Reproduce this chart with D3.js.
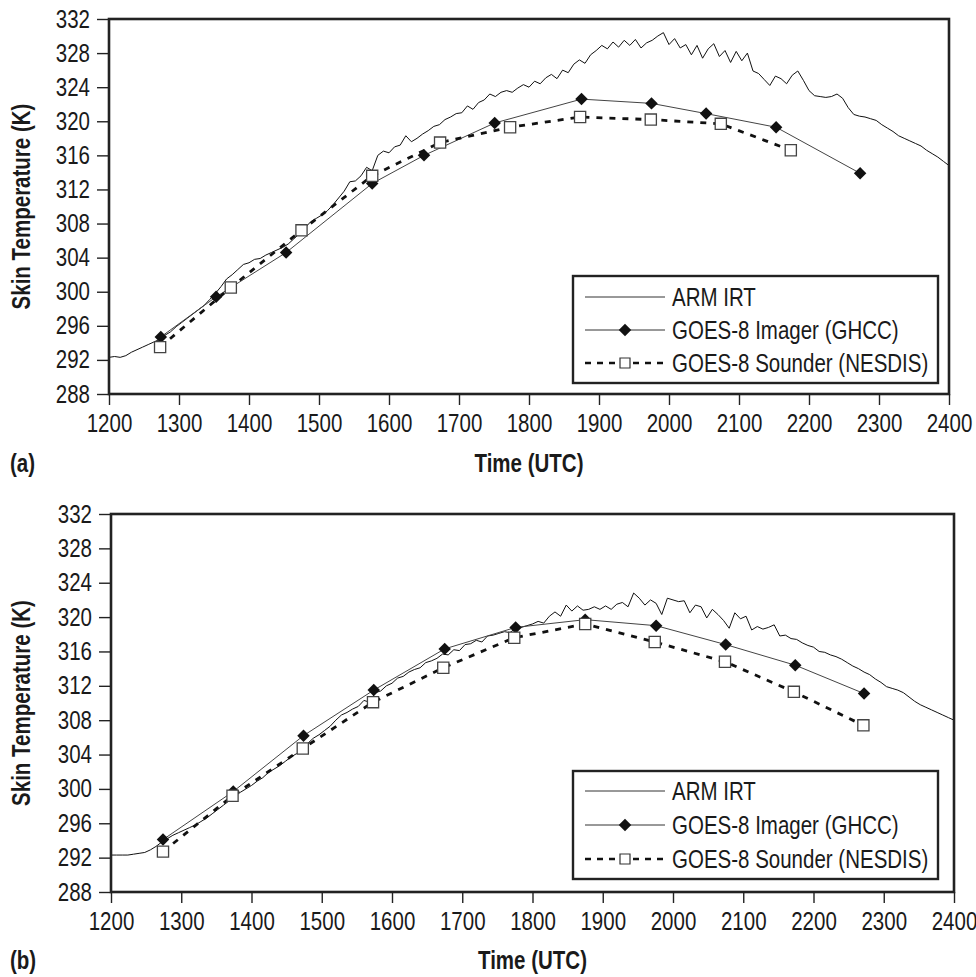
<!DOCTYPE html>
<html lang="en">
<head>
<meta charset="utf-8"/>
<title>Skin temperature</title>
<script src="https://d3js.org/d3.v7.min.js"></script>
<style>
  body { margin: 0; background: #fff; }
  text { font-family: "Liberation Sans", Arial, sans-serif; fill: #1a1a1a; }
</style>
</head>
<body>
<script>
// x ticks (time, UTC) and y ticks (K)
const timeTicks = [1200, 1300, 1400, 1500, 1600, 1700, 1800, 1900, 2000, 2100, 2200, 2300, 2400];
const tempTicks = [288, 292, 296, 300, 304, 308, 312, 316, 320, 324, 328, 332];
const legendLabels = ["ARM IRT", "GOES-8 Imager (GHCC)", "GOES-8 Sounder (NESDIS)"];

// ARM IRT traces, sampled every 8 time units starting at 1200
const armStart = 1200, armStep = 8;
const armA = [
  292.3, 292.4, 292.3, 292.5, 292.9, 293.2, 293.5, 293.8, 294.1, 294.4,
  294.9, 295.3, 295.9, 296.4, 296.9, 297.4, 297.9, 298.4, 299.1, 299.8,
  300.6, 301.5, 302.0, 302.6, 303.2, 303.4, 303.8, 303.9, 304.3, 304.6,
  304.9, 305.2, 305.6, 306.2, 306.8, 307.5, 308.2, 308.6, 309.0, 309.5,
  310.2, 311.0, 311.8, 312.9, 313.0, 313.6, 314.6, 314.2, 316.0, 316.5,
  316.3, 317.0, 317.2, 318.3, 317.6, 318.0, 318.5, 318.9, 319.4, 319.6,
  320.2, 320.5, 320.9, 321.0, 321.8, 321.4, 322.2, 322.5, 323.2, 322.9,
  323.4, 323.6, 323.4, 323.9, 324.3, 324.0, 324.7, 324.4, 325.1, 325.5,
  325.0, 326.0, 325.7, 326.7, 327.2, 326.8, 327.8, 328.3, 328.9, 328.5,
  329.3, 328.7, 329.5, 328.9, 329.6, 328.6, 329.2, 329.5, 330.0, 330.4,
  329.0, 329.7, 328.6, 329.0, 327.8, 328.9, 327.4, 328.5, 329.1, 327.6,
  328.3, 326.9, 328.2, 327.1, 328.0, 325.9, 325.6, 324.9, 324.2, 325.3,
  325.0, 324.4, 325.4, 325.9, 324.8, 323.6, 323.0, 322.9, 322.8, 322.9,
  323.2, 322.7, 321.6, 320.8, 320.6, 320.5, 320.3, 320.1, 319.6, 319.2,
  318.8, 318.3, 318.0, 317.7, 317.4, 317.1, 316.6, 316.2, 315.8, 315.3,
  314.8
];
const armB = [
  292.3, 292.3, 292.3, 292.3, 292.4, 292.5, 292.6, 292.9, 293.3, 293.8,
  294.2, 294.6, 294.9, 295.2, 295.5, 295.8, 296.2, 296.6, 297.1, 297.6,
  298.1, 298.6, 299.1, 299.6, 300.0, 300.4, 300.9, 301.3, 301.9, 302.3,
  302.7, 303.2, 303.7, 304.1, 304.5, 305.3, 305.9, 306.3, 306.8, 307.3,
  308.0, 308.6, 308.9, 309.3, 309.6, 310.3, 310.1, 311.2, 311.4, 312.0,
  312.3, 312.9, 313.1, 313.6, 313.9, 314.1, 314.7, 314.9, 315.2, 315.7,
  315.6, 316.2, 316.1, 316.8, 316.9, 317.3, 317.1, 317.8, 317.9, 318.1,
  318.3, 318.2, 318.7, 318.8, 319.0, 319.2, 319.5, 319.3, 320.1, 320.6,
  320.1, 321.4, 320.7, 321.3, 320.8, 320.9, 321.2, 320.9, 321.3, 320.9,
  321.5, 321.7, 321.2, 322.8, 322.2, 321.4, 322.0, 321.6, 320.3, 322.2,
  322.0, 321.8, 321.9, 320.5, 321.4, 321.2, 319.9, 320.9, 320.3, 319.6,
  318.7, 320.5, 319.8, 320.1, 318.5, 318.9, 318.6, 318.8, 319.1, 317.8,
  317.9, 317.5, 317.4, 317.0, 316.7, 316.5, 316.0, 315.9, 315.6, 315.4,
  315.1, 314.7, 314.3, 314.0, 313.6, 313.3, 312.8, 312.4, 311.9, 311.7,
  311.5, 311.2, 310.7, 310.2, 309.8, 309.5, 309.2, 308.9, 308.6, 308.3,
  308.0
];

// GOES-8 Imager (GHCC)
const imagerTimeA = [1274, 1353, 1453, 1576, 1650, 1751, 1875, 1975, 2053, 2153, 2273];
const imagerA = [294.7, 299.4, 304.6, 312.7, 316.0, 319.8, 322.6, 322.1, 320.9, 319.3, 313.9];
const imagerTimeB = [1274, 1374, 1474, 1574, 1675, 1776, 1875, 1976, 2075, 2174, 2272];
const imagerB = [294.1, 299.7, 306.2, 311.5, 316.3, 318.8, 319.7, 319.0, 316.8, 314.4, 311.1];

// GOES-8 Sounder (NESDIS)
const sounderTimeA = [1273, 1374, 1475, 1576, 1673, 1773, 1873, 1974, 2074, 2174];
const sounderA = [293.5, 300.5, 307.2, 313.6, 317.5, 319.3, 320.5, 320.2, 319.7, 316.6];
const sounderTimeB = [1274, 1373, 1473, 1573, 1673, 1774, 1875, 1974, 2074, 2172, 2271];
const sounderB = [292.7, 299.2, 304.7, 310.1, 314.1, 317.6, 319.2, 317.1, 314.8, 311.3, 307.4];

const svg = d3.select("body").append("svg")
    .attr("width", 976)
    .attr("height", 977);

const frameColor = "#222";
// the original uses a condensed face; squeeze Liberation Sans horizontally
const squeeze = 0.82;

function narrow(sel) {
    sel.each(function () {
        const t = d3.select(this);
        const x = +(t.attr("x") || 0);
        const tr = t.attr("transform") || "";
        t.attr("x", x / squeeze).attr("transform", `${tr} scale(${squeeze},1)`);
    });
}

function drawPanel(p) {
    const x = d3.scaleLinear().domain([1200, 2400]).range([p.left, p.right]);
    const y = d3.scaleLinear().domain([288, 332]).range([p.bottom, p.top]);
    const g = svg.append("g");

    // axes
    const yAxis = g.append("g")
        .attr("transform", `translate(${p.left},0)`)
        .call(d3.axisLeft(y).tickValues(tempTicks).tickSize(12).tickPadding(7).tickFormat(d3.format("d")));
    const xAxis = g.append("g")
        .attr("transform", `translate(0,${p.bottom})`)
        .call(d3.axisBottom(x).tickValues(timeTicks).tickSize(11).tickPadding(9).tickFormat(d3.format("d")));
    for (const ax of [xAxis, yAxis]) {
        ax.select(".domain").remove();
        ax.selectAll(".tick line").attr("stroke", frameColor).attr("stroke-width", 1.4);
        ax.selectAll(".tick text").attr("font-size", 25).attr("fill", "#1a1a1a")
            .style("font-family", "'Liberation Sans', Arial, sans-serif")
            .call(narrow);
    }

    // ARM IRT trace
    const armTimes = p.arm.map((v, i) => armStart + i * armStep);
    const armLine = d3.line()
        .x((d, i) => x(armTimes[i])).y(d => y(d));
    g.append("path").datum(p.arm)
        .attr("d", armLine)
        .attr("fill", "none").attr("stroke", "#111").attr("stroke-width", 1);

    // imager + sounder lines
    const ptLine = d3.line().x(d => x(d[0])).y(d => y(d[1]));
    const imgPts = p.imgT.map((t, i) => [t, p.img[i]]);
    const sndPts = p.sndT.map((t, i) => [t, p.snd[i]]);
    g.append("path").datum(imgPts)
        .attr("d", ptLine)
        .attr("fill", "none").attr("stroke", "#444").attr("stroke-width", 1);
    g.append("path").datum(sndPts)
        .attr("d", ptLine)
        .attr("fill", "none").attr("stroke", "#111").attr("stroke-width", 2.8)
        .attr("stroke-dasharray", "6,7");

    const diamond = d3.symbol().type(d3.symbolSquare).size(78);
    const square = d3.symbol().type(d3.symbolSquare).size(125);
    g.selectAll(".img").data(imgPts).join("path")
        .attr("d", diamond)
        .attr("transform", d => `translate(${x(d[0])},${y(d[1])}) rotate(45)`)
        .attr("fill", "#111");
    g.selectAll(".snd").data(sndPts).join("path")
        .attr("d", square)
        .attr("transform", d => `translate(${x(d[0])},${y(d[1])})`)
        .attr("fill", "#fff").attr("stroke", "#444").attr("stroke-width", 1.3);

    // frame
    g.append("rect")
        .attr("x", p.left).attr("y", p.top)
        .attr("width", p.right - p.left).attr("height", p.bottom - p.top)
        .attr("fill", "none").attr("stroke", frameColor).attr("stroke-width", 2.6);

    // legend
    const lg = g.append("g");
    lg.append("rect")
        .attr("x", p.legend.x).attr("y", p.legend.y)
        .attr("width", p.legend.w).attr("height", p.legend.h)
        .attr("fill", "#fff").attr("stroke", frameColor).attr("stroke-width", 2.4);
    const rowY = p.legend.rows;
    const lx0 = p.legend.x + 12, lx1 = p.legend.x + 92, lmid = p.legend.x + 52;
    lg.append("line").attr("x1", lx0).attr("x2", lx1).attr("y1", rowY[0]).attr("y2", rowY[0])
        .attr("stroke", "#333").attr("stroke-width", 1);
    lg.append("line").attr("x1", lx0).attr("x2", lx1).attr("y1", rowY[1]).attr("y2", rowY[1])
        .attr("stroke", "#333").attr("stroke-width", 1);
    lg.append("path").attr("d", diamond)
        .attr("transform", `translate(${lmid},${rowY[1]}) rotate(45)`).attr("fill", "#111");
    lg.append("line").attr("x1", lx0).attr("x2", lx1).attr("y1", rowY[2]).attr("y2", rowY[2])
        .attr("stroke", "#111").attr("stroke-width", 2.6).attr("stroke-dasharray", "6,6");
    lg.append("path").attr("d", d3.symbol().type(d3.symbolSquare).size(100))
        .attr("transform", `translate(${lmid},${rowY[2]})`)
        .attr("fill", "#fff").attr("stroke", "#333").attr("stroke-width", 1.2);
    lg.selectAll(".lab").data(legendLabels).join("text")
        .attr("x", p.legend.x + 99)
        .attr("y", (d, i) => rowY[i] + 9)
        .attr("font-size", 25)
        .text(d => d)
        .call(narrow);

    // titles
    g.append("text")
        .attr("transform", `translate(30,${(p.top + p.bottom) / 2}) rotate(-90)`)
        .attr("text-anchor", "middle")
        .attr("font-size", 25).attr("font-weight", "bold")
        .text("Skin Temperature (K)")
        .call(narrow);
    g.append("text")
        .attr("x", (p.left + p.right) / 2).attr("y", p.titleY)
        .attr("text-anchor", "middle")
        .attr("font-size", 25).attr("font-weight", "bold")
        .text("Time (UTC)")
        .call(narrow);
    g.append("text")
        .attr("x", 10).attr("y", p.titleY)
        .attr("font-size", 25).attr("font-weight", "bold")
        .text(p.tag)
        .call(narrow);
}

drawPanel({
    left: 109, right: 949, top: 19, bottom: 394,
    arm: armA, imgT: imagerTimeA, img: imagerA, sndT: sounderTimeA, snd: sounderA,
    legend: {x: 573, y: 276, w: 365, h: 107, rows: [297, 330, 363]},
    titleY: 472, tag: "(a)"
});
drawPanel({
    left: 111, right: 954, top: 514, bottom: 892,
    arm: armB, imgT: imagerTimeB, img: imagerB, sndT: sounderTimeB, snd: sounderB,
    legend: {x: 573, y: 771, w: 365, h: 108, rows: [791, 825, 859]},
    titleY: 969, tag: "(b)"
});
</script>
</body>
</html>
